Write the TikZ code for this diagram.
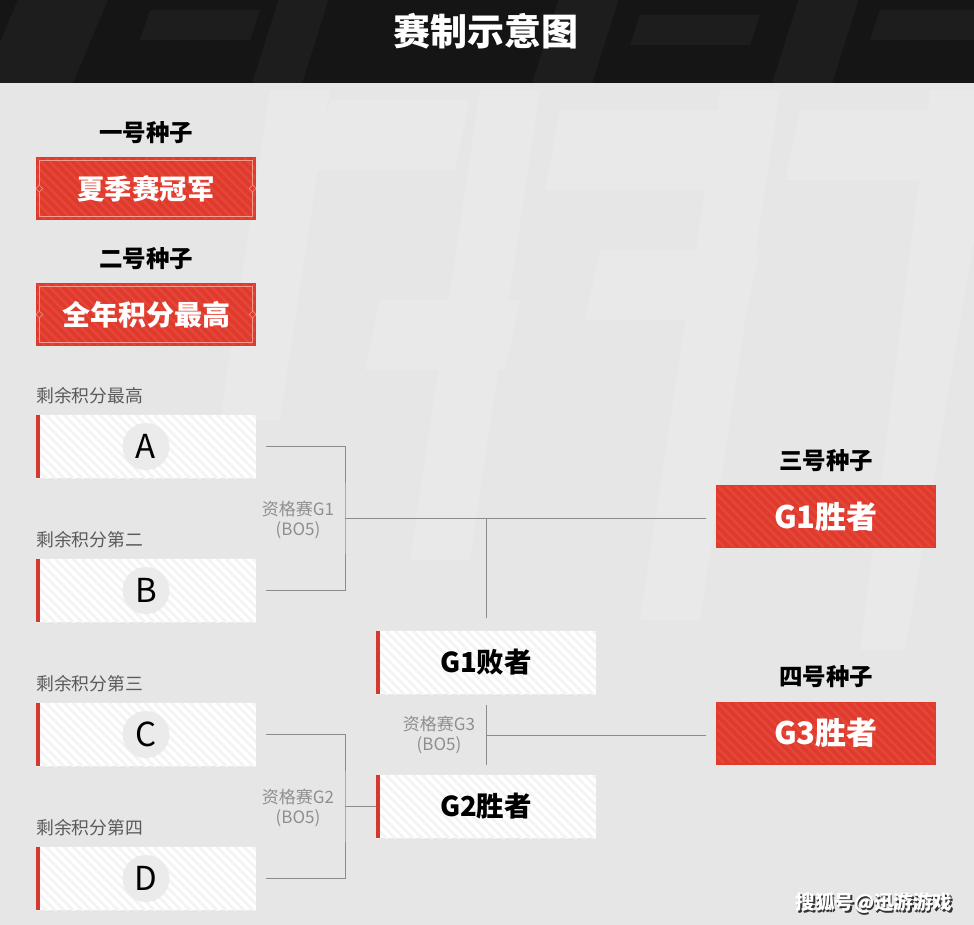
\documentclass[tikz,border=0pt]{standalone}
\usepackage{fontspec}
\newfontfamily\cjk{Noto Sans CJK SC}
\usetikzlibrary{shapes.geometric}
\definecolor{bg}{HTML}{E6E6E6}
\definecolor{bgl}{HTML}{E9E9E9}
\definecolor{band}{HTML}{151515}
\definecolor{bandl}{HTML}{1D1D1D}
\definecolor{myred}{HTML}{E03A2D}
\definecolor{redl}{HTML}{E44639}
\definecolor{redb}{HTML}{F39A8C}
\definecolor{barred}{HTML}{D5392E}
\definecolor{wstripe}{HTML}{F3F3F3}
\definecolor{circ}{HTML}{EBEBEB}
\definecolor{conncol}{HTML}{8C8C8C}
\definecolor{labcol}{HTML}{5A5A5A}
\definecolor{gcol}{HTML}{8E8E8E}
\tikzset{
  redbox/.style={minimum width=218.8pt, minimum height=61.8pt, inner sep=0pt, fill=myred,
    draw=myred, line width=1.2pt,
    text=white, font=\cjk\bfseries\fontsize{27.5}{27.5}\selectfont,
    path picture={\foreach \k in {-190,-181,...,120}
      \draw[redl, line width=2.5pt] ([xshift=\k pt]path picture bounding box.north) -- ++(70,70);}},
  whitebox/.style={minimum width=220pt, minimum height=63pt, inner sep=0pt, fill=white,
    text=black, font=\cjk\bfseries\fontsize{27.5}{27.5}\selectfont,
    path picture={\foreach \k in {-190,-181,...,120}
      \draw[wstripe, line width=2.5pt] ([xshift=\k pt]path picture bounding box.north) -- ++(70,70);
      \fill[barred] (path picture bounding box.north west) rectangle ([xshift=4pt]path picture bounding box.south west);}},
  seedlab/.style={font=\cjk\bfseries\fontsize{23.5}{23.5}\selectfont, text=black},
  rowlab/.style={anchor=west, inner sep=0pt, font=\cjk\fontsize{17.8}{17.8}\selectfont, text=labcol},
  letter/.style={circle, fill=circ, minimum size=47pt, inner sep=0pt, font=\cjk\fontsize{33}{33}\selectfont, text=black},
  conn/.style={draw=conncol, line width=1pt},
  glab/.style={align=center, font=\cjk\fontsize{17}{20}\selectfont, text=gcol},
  innerb/.style={draw=redb, line width=0.6pt},
  dmark/.style={diamond, draw=redb, fill=myred, line width=0.6pt, minimum size=7pt, inner sep=0pt},
}
\begin{document}
\begin{tikzpicture}[x=1pt, y=-1pt]
\useasboundingbox (0,0) rectangle (974,925);
% background
\fill[bg] (0,0) rectangle (974,925);
% faint background shapes
\begin{scope}
\clip (0,83) rectangle (974,925);
\fill[bgl] (270,90) -- (330,90) -- (280,420) -- (220,420) -- cycle;
\fill[bgl] (330,100) -- (470,100) -- (455,170) -- (315,170) -- cycle;
\fill[bgl] (480,90) -- (540,90) -- (470,560) -- (410,560) -- cycle;
\fill[bgl] (560,110) -- (720,110) -- (705,190) -- (545,190) -- cycle;
\fill[bgl] (720,90) -- (780,90) -- (700,620) -- (640,620) -- cycle;
\fill[bgl] (600,250) -- (760,250) -- (745,320) -- (585,320) -- cycle;
\fill[bgl] (800,110) -- (960,110) -- (945,180) -- (785,180) -- cycle;
\fill[bgl] (930,90) -- (974,90) -- (974,240) -- (905,650) -- (860,650) -- cycle;
\fill[bgl] (380,300) -- (520,300) -- (505,370) -- (365,370) -- cycle;
\end{scope}
% title band
\fill[band] (0,0) rectangle (974,83);
\begin{scope}
\clip (0,0) rectangle (974,83);
\fill[bandl] (20,-5) -- (110,-5) -- (70,90) -- (-20,90) -- cycle;
\fill[bandl] (150,10) -- (260,10) -- (250,40) -- (140,40) -- cycle;
\fill[bandl] (280,-5) -- (330,-5) -- (300,90) -- (250,90) -- cycle;
\fill[bandl] (560,-5) -- (620,-5) -- (590,90) -- (530,90) -- cycle;
\fill[bandl] (640,15) -- (760,15) -- (750,45) -- (630,45) -- cycle;
\fill[bandl] (800,-5) -- (860,-5) -- (830,90) -- (770,90) -- cycle;
\fill[bandl] (880,10) -- (974,10) -- (974,40) -- (870,40) -- cycle;
\end{scope}
\node[text=white, font=\cjk\bfseries\fontsize{37}{37}\selectfont] (title) at (486,31) {赛制示意图};

% seeds 1 and 2
\node[seedlab] (lab1) at (146,133) {一号种子};
\node[redbox] (s1) at (146,188.5) {夏季赛冠军};
\node[seedlab] (lab2) at (146,259) {二号种子};
\node[redbox, font=\cjk\bfseries\fontsize{28}{28}\selectfont] (s2) at (146,314.5) {全年积分最高};
\foreach \b in {s1,s2}{
  \draw[innerb] ([shift={(3.4,3.4)}]\b.north west) rectangle ([shift={(-3.4,-3.4)}]\b.south east);
  \node[dmark] at ([xshift=3.4pt]\b.west) {};
  \node[dmark] at ([xshift=-3.4pt]\b.east) {};
}

% left column
\node[rowlab] (la) at (36,396) {剩余积分最高};
\node[whitebox] (bA) at (146,446.5) {};
\node[letter] (cA) at (bA) {A};
\node[rowlab] (lb) at (36,540) {剩余积分第二};
\node[whitebox] (bB) at (146,590.5) {};
\node[letter] (cB) at (bB) {B};
\node[rowlab] (lc) at (36,684) {剩余积分第三};
\node[whitebox] (bC) at (146,734.5) {};
\node[letter] (cC) at (bC) {C};
\node[rowlab] (ld) at (36,828) {剩余积分第四};
\node[whitebox] (bD) at (146,878.5) {};
\node[letter] (cD) at (bD) {D};

% middle column
\node[whitebox] (g1l) at (486,662.5) {G1败者};
\node[whitebox] (g2w) at (486,806.5) {G2胜者};

% right column
\node[seedlab] (lab3) at (826,461) {三号种子};
\node[redbox, font=\cjk\bfseries\fontsize{31}{31}\selectfont] (w1) at (826,516.5) {G1胜者};
\node[seedlab] (lab4) at (826,677) {四号种子};
\node[redbox, font=\cjk\bfseries\fontsize{31}{31}\selectfont] (w3) at (826,733) {G3胜者};

% connectors
\coordinate (j1) at (345,518);
\coordinate (m1) at (486,518);
\coordinate (e1) at (706,518);
\coordinate (j2) at (345,806.5);
\coordinate (j3) at (486,735);
\coordinate (e3) at (706,735);
\draw[conn] ([xshift=10pt]bA.east) -| (j1) |- ([xshift=10pt]bB.east);
\draw[conn] (j1) -- (e1);
\draw[conn] (m1) -- ([yshift=13pt]g1l.north);
\draw[conn] ([xshift=10pt]bC.east) -| (j2) |- ([xshift=10pt]bD.east);
\draw[conn] (j2) -- (g2w.west);
\draw[conn] ([yshift=-11pt]g1l.south) -- ([yshift=10pt]g2w.north);
\draw[conn] (j3) -- (e3);

% match labels
\node[glab] (t1) at (298,520) {资格赛G1\\(BO5)};
\node[glab] (t2) at (298,808) {资格赛G2\\(BO5)};
\node[glab] (t3) at (439,735) {资格赛G3\\(BO5)};

% watermark
\node[text=black!80, font=\cjk\bfseries\fontsize{19.5}{19.5}\selectfont] at (875.5,904.5) {搜狐号@迅游游戏};
\node[text=white, font=\cjk\bfseries\fontsize{19.5}{19.5}\selectfont] (wm) at (874,903) {搜狐号@迅游游戏};
\end{tikzpicture}
\end{document}
